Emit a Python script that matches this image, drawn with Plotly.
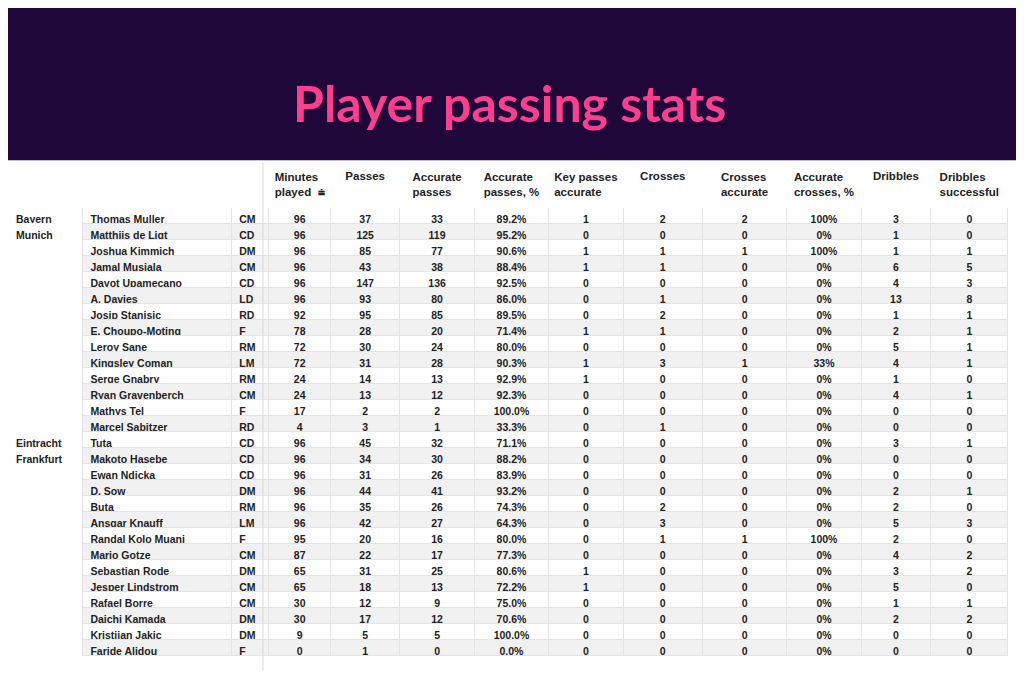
import plotly.graph_objects as go

teams = ["Bayern", "Munich"] + [""] * 12 + ["Eintracht", "Frankfurt"] + [""] * 12
players = ["Thomas Muller", "Matthijs de Ligt", "Joshua Kimmich", "Jamal Musiala", "Dayot Upamecano",
           "A. Davies", "Josip Stanisic", "E. Choupo-Moting", "Leroy Sane", "Kingsley Coman",
           "Serge Gnabry", "Ryan Gravenberch", "Mathys Tel", "Marcel Sabitzer",
           "Tuta", "Makoto Hasebe", "Ewan Ndicka", "D. Sow", "Buta", "Ansgar Knauff",
           "Randal Kolo Muani", "Mario Gotze", "Sebastian Rode", "Jesper Lindstrom", "Rafael Borre",
           "Daichi Kamada", "Kristijan Jakic", "Faride Alidou"]
positions = ["CM", "CD", "DM", "CM", "CD", "LD", "RD", "F", "RM", "LM", "RM", "CM", "F", "RD",
             "CD", "CD", "CD", "DM", "RM", "LM", "F", "CM", "DM", "CM", "CM", "DM", "DM", "F"]
minutes = [96, 96, 96, 96, 96, 96, 92, 78, 72, 72, 24, 24, 17, 4,
           96, 96, 96, 96, 96, 96, 95, 87, 65, 65, 30, 30, 9, 0]
passes = [37, 125, 85, 43, 147, 93, 95, 28, 30, 31, 14, 13, 2, 3,
          45, 34, 31, 44, 35, 42, 20, 22, 31, 18, 12, 17, 5, 1]
acc_passes = [33, 119, 77, 38, 136, 80, 85, 20, 24, 28, 13, 12, 2, 1,
              32, 30, 26, 41, 26, 27, 16, 17, 25, 13, 9, 12, 5, 0]
acc_pct = ["89.2%", "95.2%", "90.6%", "88.4%", "92.5%", "86.0%", "89.5%", "71.4%", "80.0%", "90.3%",
           "92.9%", "92.3%", "100.0%", "33.3%", "71.1%", "88.2%", "83.9%", "93.2%", "74.3%", "64.3%",
           "80.0%", "77.3%", "80.6%", "72.2%", "75.0%", "70.6%", "100.0%", "0.0%"]
key_passes = [1, 0, 1, 1, 0, 0, 0, 1, 0, 1, 1, 0, 0, 0,
              0, 0, 0, 0, 0, 0, 0, 0, 1, 1, 0, 0, 0, 0]
crosses = [2, 0, 1, 1, 0, 1, 2, 1, 0, 3, 0, 0, 0, 1,
           0, 0, 0, 0, 2, 3, 1, 0, 0, 0, 0, 0, 0, 0]
crosses_acc = [2, 0, 1, 0, 0, 0, 0, 0, 0, 1, 0, 0, 0, 0,
               0, 0, 0, 0, 0, 0, 1, 0, 0, 0, 0, 0, 0, 0]
cross_pct = ["100%", "0%", "100%", "0%", "0%", "0%", "0%", "0%", "0%", "33%", "0%", "0%", "0%", "0%",
             "0%", "0%", "0%", "0%", "0%", "0%", "100%", "0%", "0%", "0%", "0%", "0%", "0%", "0%"]
dribbles = [3, 1, 1, 6, 4, 13, 1, 2, 5, 4, 1, 4, 0, 0,
            3, 0, 0, 2, 2, 5, 2, 4, 3, 5, 1, 2, 0, 0]
dribbles_succ = [0, 0, 1, 5, 3, 8, 1, 1, 1, 1, 0, 1, 0, 0,
                 1, 0, 0, 1, 0, 3, 0, 2, 2, 0, 1, 2, 0, 0]
headers = ["", "", "", "Minutes<br>played  ⩧", "Passes", "Accurate<br>passes", "Accurate<br>passes, %",
           "Key passes<br>accurate", "Crosses", "Crosses<br>accurate", "Accurate<br>crosses, %",
           "Dribbles", "Dribbles<br>successful"]

columns = [teams, players, positions, minutes, passes, acc_passes, acc_pct, key_passes,
           crosses, crosses_acc, cross_pct, dribbles, dribbles_succ]
widths = [75, 150, 38, 62, 70, 75, 75, 75, 80, 85, 75, 70, 78]

n = len(players)
stripe = ["#ffffff" if i % 2 == 0 else "#f1f1f1" for i in range(n)]
fills = [["#ffffff"] * n] + [stripe] * 12
lines = [["#ffffff"] * n] + [["#e4e4e4"] * n] * 12
aligns = ["left", "left", "left"] + ["center"] * 10

fig = go.Figure(go.Table(
    domain=dict(x=[0.0, 0.977], y=[0.0, 0.773]),
    columnwidth=widths,
    header=dict(values=headers, align=aligns, height=44,
                fill_color="#ffffff", line_color="#ffffff",
                font=dict(family="Liberation Sans", size=11.5, color="#222222", weight="bold")),
    cells=dict(values=columns, align=aligns, height=16,
               fill_color=fills, line=dict(color=lines, width=1),
               font=dict(family="Liberation Sans", size=10.5, color="#222222", weight="bold")),
))

fig.add_shape(type="rect", xref="paper", yref="paper", x0=0, x1=1, y0=0.777, y1=1,
              fillcolor="#1f0739", line_width=0, layer="below")
fig.add_shape(type="line", xref="paper", yref="paper", x0=0.249, x1=0.249, y0=0.03, y1=0.773,
              line=dict(color="#d8d8d8", width=1))
fig.add_annotation(text="Player passing stats", xref="paper", yref="paper", x=0.49, y=0.861,
                   yanchor="middle", xanchor="center",
                   showarrow=False, font=dict(family="Lato", size=50, color="#ff3e8e", weight="bold"))

fig.update_layout(width=1024, height=683, margin=dict(l=0, r=0, t=0, b=0),
                  paper_bgcolor="#ffffff", plot_bgcolor="#ffffff")
fig.write_html("out.html")
